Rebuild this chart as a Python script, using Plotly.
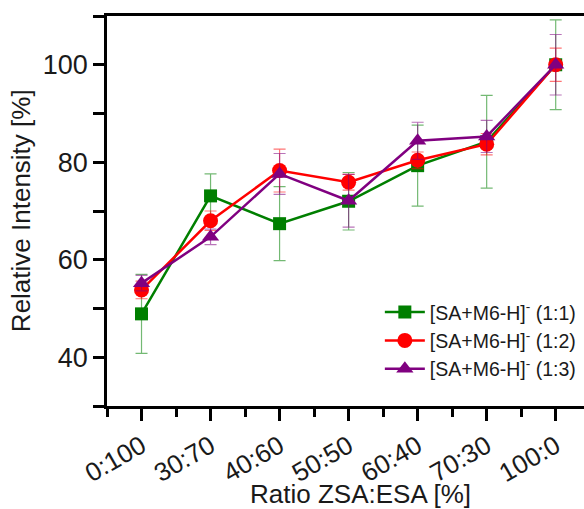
import plotly.graph_objects as go

categories = ["0:100", "30:70", "40:60", "50:50", "60:40", "70:30", "100:0"]
series_names = ["[SA+M6-H]<sup>-</sup> (1:1)", "[SA+M6-H]<sup>-</sup> (1:2)", "[SA+M6-H]<sup>-</sup> (1:3)"]
vals_11 = [48.9, 73.1, 67.4, 72.0, 79.3, 84.2, 100.0]
err_11 = [8.1, 4.5, 7.6, 5.9, 8.3, 9.5, 9.2]
vals_12 = [53.8, 68.0, 78.3, 75.9, 80.4, 83.7, 100.0]
err_12 = [1.8, 2.0, 4.4, 1.6, 1.7, 2.2, 3.4]
vals_13 = [55.2, 64.7, 77.6, 72.1, 84.4, 85.3, 100.0]
err_13 = [1.6, 1.6, 4.2, 5.4, 3.8, 3.3, 6.2]
y_major = [40, 60, 80, 100]
y_minor = [30, 50, 70, 90, 110]

colors = ["#007F00", "#FF0000", "#800080"]
err_colors = ["rgba(0,127,0,0.55)", "rgba(255,0,0,0.55)", "rgba(128,0,128,0.55)"]
symbols = ["square", "circle", "triangle-up"]
msizes = [13, 15, 15]

x = list(range(len(categories)))
fig = go.Figure()
for name, v, e, c, ec, s, ms in zip(series_names, [vals_11, vals_12, vals_13],
                                     [err_11, err_12, err_13], colors, err_colors, symbols, msizes):
    fig.add_trace(go.Scatter(
        x=x, y=v, name=name, mode="lines+markers",
        line=dict(color=c, width=2.5),
        marker=dict(symbol=s, size=ms, color=c),
        error_y=dict(type="data", array=e, visible=True, color=ec, thickness=1.2, width=6),
    ))

font_family = "Liberation Sans, Arial, sans-serif"
txt = "#1a1a1a"
fig.update_layout(
    width=584, height=509,
    margin=dict(l=107, r=0, t=16, b=103),
    paper_bgcolor="white", plot_bgcolor="white",
    font=dict(family=font_family, color=txt),
    showlegend=True,
    legend=dict(x=0.572, y=0.29, xanchor="left", yanchor="top",
                bgcolor="rgba(0,0,0,0)", font=dict(size=19.5, family=font_family, color=txt),
                tracegroupgap=0, itemwidth=40),
    xaxis=dict(
        range=[-0.5, 6.41], tickmode="array", tickvals=x, ticktext=categories,
        tickangle=-30, tickfont=dict(size=26, color=txt), ticks="outside", ticklen=12, tickwidth=2.5,
        tickcolor="black", showline=True, linecolor="black", linewidth=2.5,
        showgrid=False, zeroline=False, mirror=True,
        minor=dict(dtick=0.5, tick0=-0.5, ticks="outside", ticklen=8, tickwidth=2.5, tickcolor="black"),
    ),
    yaxis=dict(
        range=[30, 110], tickmode="array", tickvals=y_major,
        tickfont=dict(size=27, color=txt), ticks="outside", ticklen=11, tickwidth=2.5, tickcolor="black",
        showline=True, linecolor="black", linewidth=2.5, showgrid=False, zeroline=False,
        minor=dict(tickvals=y_minor, ticks="outside", ticklen=11, tickwidth=2.5, tickcolor="black"),
    ),
    annotations=[
        dict(text="Ratio ZSA:ESA [%]", xref="paper", yref="paper", x=0.532, y=-0.225,
             xanchor="center", yanchor="middle", showarrow=False, font=dict(size=26, color=txt)),
        dict(text="Relative Intensity [%]", xref="paper", yref="paper", x=-0.18, y=0.50,
             xanchor="center", yanchor="middle", textangle=-90, showarrow=False,
             font=dict(size=26, color=txt)),
    ],
)
fig.write_html("out.html")
